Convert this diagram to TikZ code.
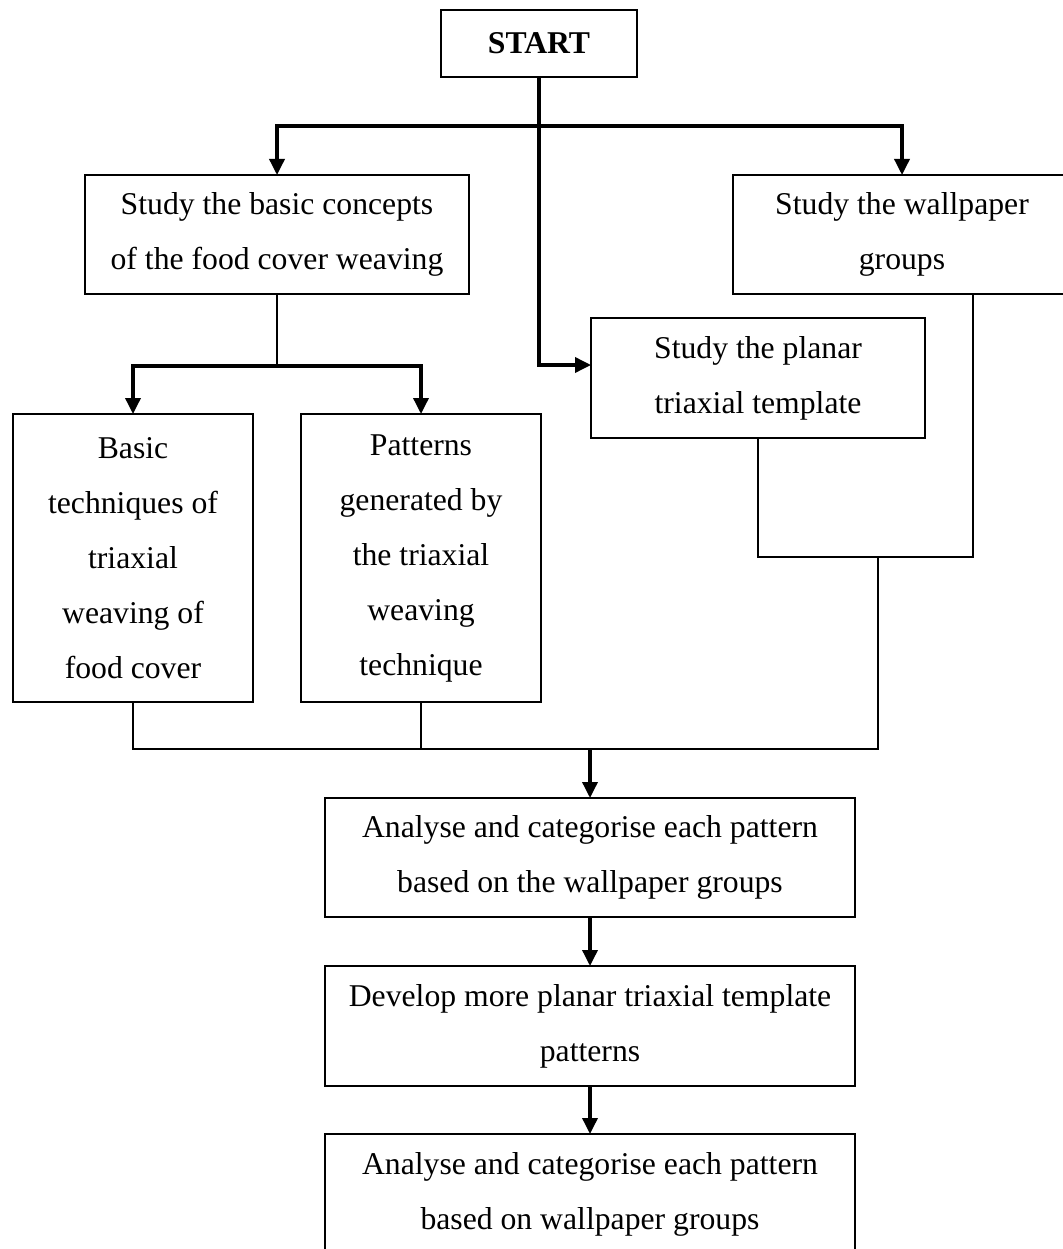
\documentclass[tikz,border=0pt]{standalone}
\usepackage{fontspec}
\setmainfont{Liberation Serif}
\usetikzlibrary{arrows.meta}

\begin{document}
\begin{tikzpicture}[x=1pt,y=-1pt,inner sep=0pt,outer sep=0pt,
	stepbox/.style={draw=black,line width=2pt,align=center,font=\fontsize{31.7}{55}\selectfont},
	startbox/.style={stepbox,font=\bfseries\fontsize{31.7}{55}\selectfont},
	link/.style={black,line width=2pt},
	flow/.style={black,line width=3.5pt},
	flowarrow/.style={flow,-{Triangle[length=16pt,width=15pt]}}]
	\useasboundingbox (0,0) rectangle (1062,1249);
	\node[startbox, minimum width=196pt, minimum height=67pt] at (539,43.5) (start) {START};
	\node[stepbox, minimum width=384pt, minimum height=119pt] at (277,234.5) (concepts) {Study the basic concepts\\of the food cover weaving};
	\node[stepbox, minimum width=338pt, minimum height=119pt] at (902,234.5) (wallpaper) {Study the wallpaper\\groups};
	\node[stepbox, minimum width=334pt, minimum height=120pt] at (758,378) (planar) {Study the planar\\triaxial template};
	\node[stepbox, minimum width=240pt, minimum height=288pt] at (133,558) (basic) {Basic\\techniques of\\triaxial\\weaving of\\food cover};
	\node[stepbox, minimum width=240pt, minimum height=288pt] at (421,558) (patterns) {Patterns\\generated by\\the triaxial\\weaving\\technique};
	\node[stepbox, minimum width=530pt, minimum height=119pt] at (590,857.5) (analyse) {Analyse and categorise each pattern\\based on the wallpaper groups};
	\node[stepbox, minimum width=530pt, minimum height=120pt] at (590,1026) (develop) {Develop more planar triaxial template\\patterns};
	\node[stepbox, minimum width=530pt, minimum height=120pt] at (590,1194) (final) {Analyse and categorise each pattern\\based on wallpaper groups};
	
	\coordinate (fork) at (539,126);
	\coordinate (split) at (277,366);
	\coordinate (join) at (878,557);
	\coordinate (gather) at (878,749);
	\coordinate (wallfoot) at ([xshift=71pt]wallpaper.south);
	
	\draw[flowarrow] (fork)-|(concepts);
	\draw[flowarrow] (fork)-|(wallpaper);
	\draw[flowarrow] (start)|-([yshift=13pt]planar.west);
	\draw[link] (concepts)--(split);
	\draw[flowarrow] (split)-|(basic);
	\draw[flowarrow] (split)-|(patterns);
	\draw[link] (planar)|-(wallfoot |- join)--(wallfoot);
	\draw[link] (join)--(gather)-|(basic);
	\draw[link] (patterns)--(patterns.south |- gather);
	\draw[flowarrow] (analyse.north |- gather)--(analyse);
	\draw[flowarrow] (analyse)--(develop);
	\draw[flowarrow] (develop)--(final);
\end{tikzpicture}
\end{document}
